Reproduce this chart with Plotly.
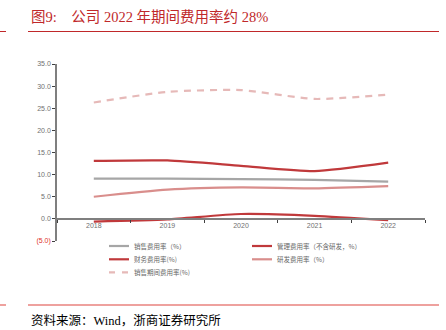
import plotly.graph_objects as go

# Period expense ratios, 2018-2022 (%)
years = ["2018", "2019", "2020", "2021", "2022"]
sales_ratio = [9.1, 9.1, 9.0, 8.8, 8.4]
admin_ratio = [13.1, 13.2, 12.0, 10.8, 12.7]
finance_ratio = [-0.6, -0.1, 1.1, 0.7, -0.3]
rnd_ratio = [5.0, 6.6, 7.1, 6.9, 7.4]
period_ratio = [26.3, 28.7, 29.1, 27.1, 28.1]

y_ticks = [-5, 0, 5, 10, 15, 20, 25, 30, 35]
y_tick_text = ["<span style='color:#E0302A'>(5.0)</span>", "0.0", "5.0", "10.0",
               "15.0", "20.0", "25.0", "30.0", "35.0"]

W, H = 446, 330
L, R, T, B = 57, 21, 64, 89
PW, PH = W - L - R, H - T - B

series = [
    ("销售费用率（%）", sales_ratio, "#A6A6A6", "solid"),
    ("管理费用率（不含研发，%）", admin_ratio, "#C0393B", "solid"),
    ("财务费用率(%)", finance_ratio, "#C0393B", "solid"),
    ("研发费用率（%）", rnd_ratio, "#D98E8C", "solid"),
    ("销售期间费用率(%)", period_ratio, "#E6B9B8", "7px,6px"),
]

fig = go.Figure()
for name, vals, color, dash in series:
    fig.add_trace(go.Scatter(
        x=years, y=vals, name=name, mode="lines", showlegend=False,
        line=dict(color=color, width=2.2, dash=dash, shape="spline", smoothing=0.6),
    ))

axis_font = dict(family="Liberation Sans, Noto Sans CJK SC", size=7, color="#707070")

fig.update_layout(
    width=W, height=H,
    margin=dict(l=L, r=R, t=T, b=B, autoexpand=False),
    paper_bgcolor="white", plot_bgcolor="white",
    font=dict(family="Noto Sans CJK SC", size=7, color="#595959"),
    showlegend=False,
    xaxis=dict(
        type="category", range=[-0.5, 4.5],
        anchor="free", position=5 / 40,
        showline=True, linecolor="#7F7F7F", linewidth=1.5,
        ticks="outside", tickson="boundaries", ticklen=3, tickcolor="#404040",
        showgrid=False, zeroline=False, tickfont=axis_font,
    ),
    yaxis=dict(
        range=[-5, 35], tickvals=y_ticks, ticktext=y_tick_text,
        showline=True, linecolor="#7F7F7F", linewidth=1.5,
        ticks="outside", ticklen=3, tickcolor="#404040",
        showgrid=False, zeroline=False, tickfont=axis_font,
    ),
)


def px_x(x):
    return (x - L) / PW


def px_y(y):
    return (H - B - y) / PH


def hline(x0, x1, y, color, width, dash="solid"):
    fig.add_shape(type="line", xref="paper", yref="paper",
                  x0=px_x(x0), x1=px_x(x1), y0=px_y(y), y1=px_y(y),
                  line=dict(color=color, width=width, dash=dash))


# Legend below the plot: two columns, three rows
legend_cols = [109, 252]
legend_rows = [246, 259.3, 272.3]
for i, (name, _, color, dash) in enumerate(series):
    lx = legend_cols[i % 2]
    ly = legend_rows[i // 2]
    sample_dash = "6px,7px" if dash != "solid" else "solid"
    hline(lx, lx + 20, ly, color, 2.2, sample_dash)
    fig.add_annotation(text=name, xref="paper", yref="paper",
                       x=px_x(lx + 23), y=px_y(ly), xanchor="left", yanchor="middle",
                       showarrow=False,
                       font=dict(family="Noto Sans CJK SC", size=6.5, color="#666666"))

# Header: figure title and rule lines
title_font = dict(family="Liberation Serif, Noto Sans CJK SC", size=14.5, color="#C0282A")
fig.add_annotation(text="图9:&nbsp;&nbsp;&nbsp;&nbsp;公司 2022 年期间费用率约 28%",
                   xref="paper", yref="paper", x=px_x(29), y=px_y(17),
                   xanchor="left", yanchor="middle", showarrow=False, font=title_font)

hline(0, 6, 31.5, "#C0282A", 1)
hline(28, 439, 31.5, "#C0282A", 1)
hline(0, 6, 305, "#E8827E", 1.5)
hline(28, 439, 305, "#E8827E", 1.5)

fig.add_annotation(text="资料来源：Wind，浙商证券研究所",
                   xref="paper", yref="paper", x=px_x(29), y=px_y(320),
                   xanchor="left", yanchor="middle", showarrow=False,
                   font=dict(family="Liberation Serif, Noto Sans CJK SC", size=12.5, color="#000000"))

fig.write_html("out.html")
